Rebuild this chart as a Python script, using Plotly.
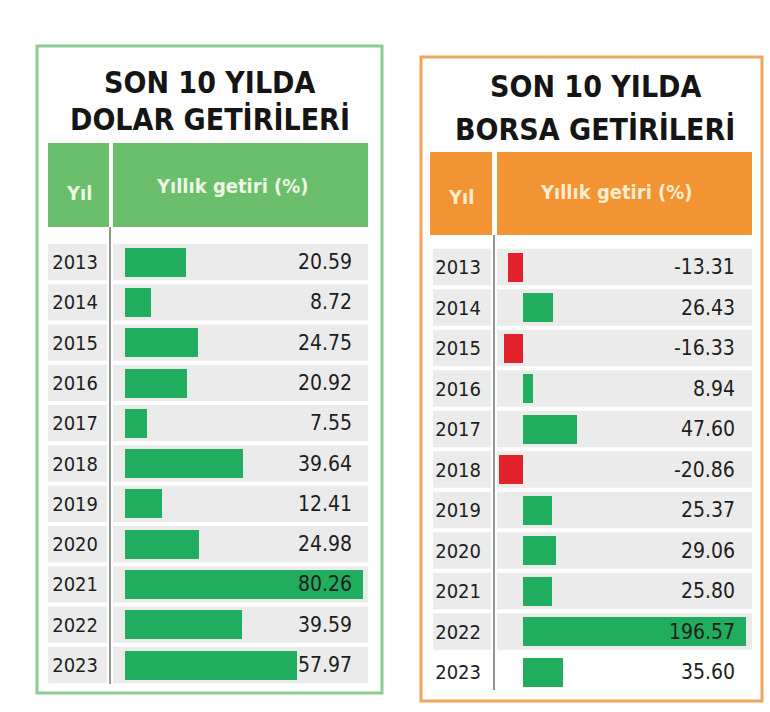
import plotly.graph_objects as go

years = ["2013", "2014", "2015", "2016", "2017", "2018", "2019", "2020", "2021", "2022", "2023"]
dolar = [20.59, 8.72, 24.75, 20.92, 7.55, 39.64, 12.41, 24.98, 80.26, 39.59, 57.97]
borsa = [-13.31, 26.43, -16.33, 8.94, 47.60, -20.86, 25.37, 29.06, 25.80, 196.57, 35.60]
dolar_labels = ["20.59", "8.72", "24.75", "20.92", "7.55", "39.64", "12.41", "24.98", "80.26", "39.59", "57.97"]
borsa_labels = ["-13.31", "26.43", "-16.33", "8.94", "47.60", "-20.86", "25.37", "29.06", "25.80", "196.57", "35.60"]

W, H = 770, 712
def px(x):
    return x / W
def py(y):
    return 1 - y / H

FONT = "DejaVu Sans Condensed, Liberation Sans Narrow, sans-serif"
GREEN_BAR = "#20ad5e"
RED_BAR = "#e3232b"
GRAY = "#ebebeb"

idx = list(range(len(years)))

fig = go.Figure()
fig.add_trace(go.Bar(
    x=dolar, y=idx, orientation="h", xaxis="x", yaxis="y",
    marker=dict(color=GREEN_BAR, line=dict(width=0)), width=0.72,
    customdata=years, hovertemplate="%{customdata}: %{x}<extra></extra>", showlegend=False))
fig.add_trace(go.Bar(
    x=borsa, y=idx, orientation="h", xaxis="x2", yaxis="y2",
    marker=dict(color=[GREEN_BAR if v >= 0 else RED_BAR for v in borsa], line=dict(width=0)),
    width=0.72, customdata=years, hovertemplate="%{customdata}: %{x}<extra></extra>", showlegend=False))

shapes = []
ann = []

panels = [
    dict(border=(37, 46, 382, 693), bcol="#8dcb93", hcol="#6bbf6c", htxt="#eef6e4",
         yil=(48, 109), main=(113, 368), hy=(143, 227), div=110, divy=(227, 684),
         yearcell=(48, 107), title_x=210, t1=82, t2=119, tl2="DOLAR GETİRİLERİ",
         yil_y=193, main_y=186, xa="x", ya="y", lab_x=(354 - 113) / 255, shade_last=True),
    dict(border=(421, 57, 762, 701), bcol="#eea65c", hcol="#f39434", htxt="#fdeccf",
         yil=(430, 492), main=(497, 752), hy=(152, 235), div=494, divy=(235, 690),
         yearcell=(433, 491), title_x=595, t1=87, t2=129, tl2="BORSA GETİRİLERİ",
         yil_y=197, main_y=192, xa="x2", ya="y2", lab_x=(737 - 497) / 255, shade_last=False),
]

for p in panels:
    x0, y0, x1, y1 = p["border"]
    shapes.append(dict(type="rect", xref="paper", yref="paper", x0=px(x0), x1=px(x1),
                       y0=py(y0), y1=py(y1), line=dict(color=p["bcol"], width=3),
                       fillcolor="rgba(0,0,0,0)", layer="below"))
    for (a, b) in (p["yil"], p["main"]):
        shapes.append(dict(type="rect", xref="paper", yref="paper", x0=px(a), x1=px(b),
                           y0=py(p["hy"][0]), y1=py(p["hy"][1]), line=dict(width=0),
                           fillcolor=p["hcol"], layer="below"))
    yref = p["ya"]
    xdom = p["xa"] + " domain"
    for i in idx:
        if i == len(years) - 1 and not p["shade_last"]:
            continue
        shapes.append(dict(type="rect", xref="paper", yref=yref,
                           x0=px(p["yearcell"][0]), x1=px(p["yearcell"][1]),
                           y0=i - 0.45, y1=i + 0.45, line=dict(width=0),
                           fillcolor=GRAY, layer="below"))
        shapes.append(dict(type="rect", xref=xdom, yref=yref, x0=0, x1=1,
                           y0=i - 0.45, y1=i + 0.45, line=dict(width=0),
                           fillcolor=GRAY, layer="below"))
    shapes.append(dict(type="line", xref="paper", yref="paper", x0=px(p["div"]), x1=px(p["div"]),
                       y0=py(p["divy"][0]), y1=py(p["divy"][1]),
                       line=dict(color="#8f9a8f", width=2), layer="below"))
    ann.append(dict(text="<b>SON 10 YILDA</b>", xref="paper", yref="paper",
                    x=px(p["title_x"]), y=py(p["t1"]), showarrow=False,
                    font=dict(family=FONT, size=30, color="#151515"), xanchor="center", yanchor="middle"))
    ann.append(dict(text="<b>" + p["tl2"] + "</b>", xref="paper", yref="paper",
                    x=px(p["title_x"]), y=py(p["t2"]), showarrow=False,
                    font=dict(family=FONT, size=30, color="#151515"), xanchor="center", yanchor="middle"))
    ann.append(dict(text="<b>Yıl</b>", xref="paper", yref="paper",
                    x=px((p["yil"][0] + p["yil"][1]) / 2), y=py(p["yil_y"]), showarrow=False,
                    font=dict(family=FONT, size=20, color=p["htxt"]), xanchor="center", yanchor="middle"))
    ann.append(dict(text="<b>Yıllık getiri (%)</b>", xref="paper", yref="paper",
                    x=px((p["main"][0] + p["main"][1]) / 2 - 8), y=py(p["main_y"]), showarrow=False,
                    font=dict(family=FONT, size=20, color=p["htxt"]), xanchor="center", yanchor="middle"))

for i, lab in zip(idx, dolar_labels):
    ann.append(dict(text=lab, xref="x domain", yref="y", x=panels[0]["lab_x"], y=i,
                    showarrow=False, xanchor="right", yanchor="middle",
                    font=dict(family=FONT, size=21, color="#1e1e1e")))
for i, lab in zip(idx, borsa_labels):
    ann.append(dict(text=lab, xref="x2 domain", yref="y2", x=panels[1]["lab_x"], y=i,
                    showarrow=False, xanchor="right", yanchor="middle",
                    font=dict(family=FONT, size=21, color="#1e1e1e")))

yax_common = dict(range=[len(years) - 0.5, -0.5], tickmode="array", tickvals=idx, ticktext=years,
                  showgrid=False, zeroline=False, showline=False, fixedrange=True,
                  ticks="", tickfont=dict(family=FONT, size=20, color="#1e1e1e"))

fig.update_layout(
    width=W, height=H, margin=dict(l=0, r=0, t=0, b=0),
    paper_bgcolor="white", plot_bgcolor="rgba(0,0,0,0)",
    bargap=0, showlegend=False,
    xaxis=dict(domain=[px(113), px(368)], range=[-4.05, 81.96], visible=False, fixedrange=True),
    yaxis=dict(domain=[py(685.15), py(241.85)], anchor="x", ticklabelstandoff=14, **yax_common),
    xaxis2=dict(domain=[px(497), px(752)], range=[-22.8, 201.6], visible=False, fixedrange=True),
    yaxis2=dict(domain=[py(692.25), py(246.75)], anchor="x2", ticklabelstandoff=15, **yax_common),
    shapes=shapes, annotations=ann,
)

fig.write_html("out.html")
